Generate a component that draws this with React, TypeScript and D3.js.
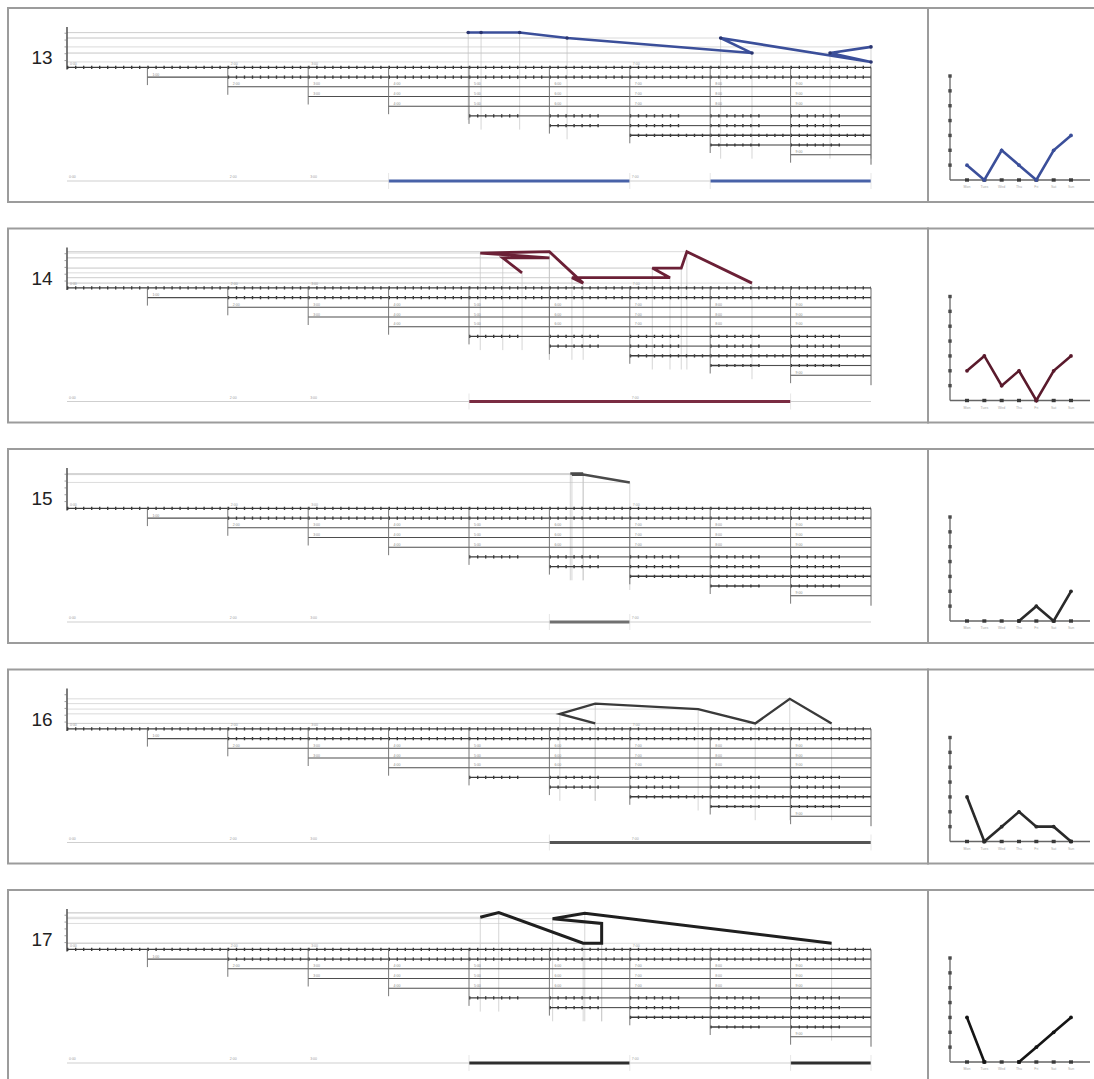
import React from "react";
import * as d3 from "d3";

const panelIds = ["13", "14", "15", "16", "17"];

const traceX13 = [4.99, 5.15, 5.63, 6.22, 8.52, 8.13, 10, 9.49, 10];
const traceY13 = [5.1, 5.1, 5.1, 4.3, 2.1, 4.3, 0.8, 2.1, 3.0];
const traceX14 = [5.66, 5.42, 6.0, 5.14, 6.0, 6.42, 6.28, 7.5, 7.28, 7.64, 7.71, 8.52];
const traceY14 = [2.2, 4.4, 4.4, 5.1, 5.3, 0.7, 1.5, 1.5, 2.9, 2.9, 5.3, 0.7];
const traceX15 = [6.26, 6.42, 6.28, 6.42, 7.0];
const traceY15 = [5.1, 5.1, 4.95, 4.95, 3.8];
const traceX16 = [6.57, 6.13, 6.57, 7.85, 8.56, 8.99, 9.51];
const traceY16 = [0.8, 2.2, 3.7, 2.9, 0.8, 4.4, 0.8];
const traceX17 = [5.14, 5.37, 6.42, 6.65, 6.65, 6.04, 6.44, 9.51];
const traceY17 = [4.7, 5.4, 0.9, 0.9, 3.8, 4.5, 5.3, 0.9];

const barRanges13 = [[4, 7], [8, 10]];
const barRanges14 = [[5, 9]];
const barRanges15 = [[6, 7]];
const barRanges16 = [[6, 10]];
const barRanges17 = [[5, 7], [9, 10]];

const smallCats = ["Mon", "Tues", "Wed", "Thu", "Fri", "Sat", "Sun"];
const small13 = [1, 0, 2, 1, 0, 2, 3];
const small14 = [2, 3, 1, 2, 0, 2, 3];
const small15 = [null, null, null, 0, 1, 0, 2];
const small16 = [3, 0, 1, 2, 1, 1, 0];
const small17 = [3, 0, null, 0, 1, 2, 3];

const stepLabels = ["0:00", "1:00", "2:00", "3:00", "4:00", "5:00", "6:00", "7:00", "8:00", "9:00", "10:00"];
const topLabelCols = [0, 2, 3, 7];
const bottomLabelCols = [0, 2, 3, 7];
// style of each staircase row: dash = marker line, plain = thin line, partial = markers then thin
const rowStyles = ["dash", "firstPlain", "plain", "plain", "plain", "partial", "partial", "dash", "partial", "plain"];

const traceXs = [traceX13, traceX14, traceX15, traceX16, traceX17];
const traceYs = [traceY13, traceY14, traceY15, traceY16, traceY17];
const barRanges = [barRanges13, barRanges14, barRanges15, barRanges16, barRanges17];
const smallValues = [small13, small14, small15, small16, small17];

const lineColors = ["#3b4f9a", "#6b2036", "#4a4a4a", "#3a3a3a", "#1f1f1f"];
const lineWidths = [2.6, 2.8, 2.6, 2.4, 3];
const barColors = ["#4862a8", "#7a2c42", "#707070", "#555555", "#2e2e2e"];
const smallColors = ["#3b4f9a", "#5a1a2c", "#2a2a2a", "#2a2a2a", "#151515"];

const xScale = d3.scaleLinear().domain([0, 10]).range([67, 871]);

function DashLine({ x1, x2, y }: { x1: number; x2: number; y: number }) {
  return (
    <g>
      <line x1={x1} x2={x2} y1={y} y2={y} stroke="#3c3c3c" strokeWidth={1.4} />
      <line x1={x1} x2={x2} y1={y} y2={y} stroke="#3c3c3c" strokeWidth={3.2} strokeDasharray="1.4 6.6" />
    </g>
  );
}

function PlainLine({ x1, x2, y }: { x1: number; x2: number; y: number }) {
  return <line x1={x1} x2={x2} y1={y} y2={y} stroke="#4e4e4e" strokeWidth={1.1} />;
}

function Panel({ idx }: { idx: number }) {
  const T = 8 + 220.5 * idx;
  const yB = T + 59.4;
  const vy = d3.scaleLinear().domain([0, 6]).range([yB, yB - 41]);
  const rowY = (k: number) => yB + 9.7 * k;
  const xs = traceXs[idx];
  const ys = traceYs[idx];
  const pts: [number, number][] = xs.map((x, i) => [xScale(x), vy(ys[i])]);
  const line = d3.line();

  const sx = d3.scalePoint<string>().domain(smallCats).range([967, 1071]);
  const sy = d3.scaleLinear().domain([0, 7]).range([T + 172, T + 68]);
  const sLine = d3
    .line<number | null>()
    .defined((d) => d !== null)
    .x((_, i) => sx(smallCats[i]) as number)
    .y((d) => sy(d as number));

  const staircase: React.ReactNode[] = [];
  for (let k = 0; k <= 9; k++) {
    const style = rowStyles[k];
    for (let c = k; c < 10; c++) {
      const x1 = xScale(c);
      const x2 = xScale(c + 1);
      const key = `r${k}c${c}`;
      if (k === 0 || style === "dash") {
        staircase.push(<DashLine key={key} x1={x1} x2={x2} y={rowY(k)} />);
      } else if (style === "firstPlain") {
        if (c === k) staircase.push(<PlainLine key={key} x1={x1} x2={x2} y={rowY(k)} />);
        else staircase.push(<DashLine key={key} x1={x1} x2={x2} y={rowY(k)} />);
      } else if (style === "partial") {
        const xm = x1 + (x2 - x1) * 0.62;
        staircase.push(
          <g key={key}>
            <DashLine x1={x1} x2={xm} y={rowY(k)} />
            <PlainLine x1={xm} x2={x2} y={rowY(k)} />
          </g>
        );
      } else {
        staircase.push(<PlainLine key={key} x1={x1} x2={x2} y={rowY(k)} />);
      }
      if (k > 0 && (style === "plain" || (style === "firstPlain" && c === k))) {
        staircase.push(
          <text key={key + "t"} x={x1 + 5} y={rowY(k) - 1.5} fontSize={3.5} fill="#8a8a8a" fontFamily="Arial">
            {stepLabels[c]}
          </text>
        );
      }
    }
  }

  return (
    <g>
      <rect x={8} y={T} width={920} height={194} fill="none" stroke="#9c9c9c" strokeWidth={2} />
      <rect x={928} y={T} width={180} height={194} fill="none" stroke="#9c9c9c" strokeWidth={2} />
      <text x={42} y={T + 56} fontSize={19} fontFamily="Arial, Liberation Sans, sans-serif" textAnchor="middle" fill="#222">
        {panelIds[idx]}
      </text>

      {/* reference lines from the trace */}
      {pts.map((p, i) => (
        <line key={"h" + i} x1={xScale(0)} x2={p[0]} y1={p[1]} y2={p[1]} stroke="#d2d2d2" strokeWidth={0.8} />
      ))}
      {pts.map((p, i) => {
        const c = Math.min(Math.floor(xs[i]) + 1, 9);
        return <line key={"v" + i} x1={p[0]} x2={p[0]} y1={p[1]} y2={rowY(c) + 4} stroke="#c4c4c4" strokeWidth={0.7} />;
      })}

      {/* y axis */}
      <line x1={xScale(0)} x2={xScale(0)} y1={T + 19} y2={yB + 2} stroke="#444" strokeWidth={1.4} />
      {d3.range(1, 6).map((v) => (
        <line key={"yt" + v} x1={xScale(0) - 2.5} x2={xScale(0)} y1={vy(v)} y2={vy(v)} stroke="#777" strokeWidth={0.7} />
      ))}

      {/* staircase */}
      {staircase}
      {d3.range(1, 10).map((c) => (
        <line key={"sv" + c} x1={xScale(c)} x2={xScale(c)} y1={yB} y2={rowY(c) + 8} stroke="#6a6a6a" strokeWidth={0.9} />
      ))}
      <line x1={xScale(10)} x2={xScale(10)} y1={yB} y2={rowY(9) + 10} stroke="#6a6a6a" strokeWidth={1} />
      {topLabelCols.map((c) => (
        <text key={"tl" + c} x={xScale(c) + 3} y={yB - 2.5} fontSize={3.5} fill="#9a9a9a" fontFamily="Arial">
          {stepLabels[c]}
        </text>
      ))}

      {/* main trace */}
      <path d={line(pts) || ""} fill="none" stroke={lineColors[idx]} strokeWidth={lineWidths[idx]} strokeLinejoin="miter" />
      {idx === 0 && pts.map((p, i) => <circle key={"m" + i} cx={p[0]} cy={p[1]} r={1.8} fill="#2a3570" />)}

      {/* bottom bar */}
      <line x1={xScale(0)} x2={xScale(10)} y1={T + 173} y2={T + 173} stroke="#cfcfcf" strokeWidth={1} />
      {bottomLabelCols.map((c) => (
        <text key={"bl" + c} x={xScale(c) + 2} y={T + 170} fontSize={3.5} fill="#a0a0a0" fontFamily="Arial">
          {stepLabels[c]}
        </text>
      ))}
      {barRanges[idx].map((r, i) => (
        <g key={"b" + i}>
          <line x1={xScale(r[0])} x2={xScale(r[1])} y1={T + 173} y2={T + 173} stroke={barColors[idx]} strokeWidth={3} />
          <line x1={xScale(r[0])} x2={xScale(r[0])} y1={T + 165} y2={T + 181} stroke="#dcdcdc" strokeWidth={0.7} />
          <line x1={xScale(r[1])} x2={xScale(r[1])} y1={T + 165} y2={T + 181} stroke="#dcdcdc" strokeWidth={0.7} />
        </g>
      ))}

      {/* small chart */}
      <line x1={950} x2={950} y1={sy(7)} y2={sy(0)} stroke="#666" strokeWidth={1.3} />
      <line x1={950} x2={1090} y1={sy(0)} y2={sy(0)} stroke="#666" strokeWidth={1.3} />
      {d3.range(1, 8).map((v) => (
        <rect key={"sd" + v} x={948.3} y={sy(v) - 1.7} width={3.4} height={3.4} fill="#4a4a4a" />
      ))}
      {smallCats.map((c) => (
        <g key={"sc" + c}>
          <rect x={(sx(c) as number) - 2} y={sy(0) - 1.7} width={4} height={3.4} fill="#3a3a3a" />
          <text x={sx(c) as number} y={sy(0) + 8} fontSize={3.5} fill="#a8a8a8" textAnchor="middle" fontFamily="Arial">
            {c}
          </text>
        </g>
      ))}
      <path d={sLine(smallValues[idx]) || ""} fill="none" stroke={smallColors[idx]} strokeWidth={2.6} />
      {smallValues[idx].map((v, i) =>
        v === null ? null : (
          <circle key={"sp" + i} cx={sx(smallCats[i]) as number} cy={sy(v)} r={1.9} fill={smallColors[idx]} />
        )
      )}
    </g>
  );
}

export default function App() {
  return (
    <svg
      width={1094}
      height={1079}
      style={{ position: "absolute", left: 0, top: 0, display: "block", background: "#fff" }}
    >
      <rect x={0} y={0} width={1094} height={1079} fill="#fff" />
      {panelIds.map((_, i) => (
        <Panel key={i} idx={i} />
      ))}
    </svg>
  );
}
